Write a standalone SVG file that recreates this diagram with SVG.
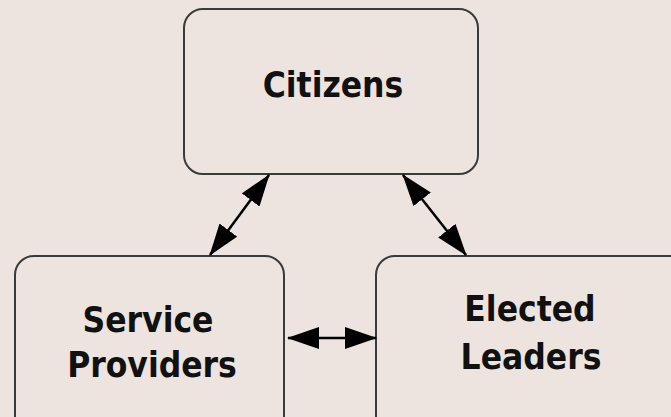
<svg xmlns="http://www.w3.org/2000/svg" width="671" height="417" viewBox="0 0 671 417">
<style>
.box{fill:#ede4e0;stroke:#3a3a3a;stroke-width:2}
.lbl{font-family:"DejaVu Sans Condensed","DejaVu Sans",sans-serif;font-stretch:condensed;font-weight:bold;font-size:35px;fill:#111;text-anchor:middle}
.con{stroke:#000;stroke-width:2.5;fill:none;marker-start:url(#ah);marker-end:url(#ah)}
</style>
<defs>
<marker id="ah" viewBox="0 0 32 22" refX="31" refY="11" markerWidth="32" markerHeight="22" markerUnits="userSpaceOnUse" orient="auto-start-reverse">
<path d="M0,0 L32,11 L0,22 z" fill="#000"/>
</marker>
</defs>
<rect width="671" height="417" fill="#ede4e0"/>
<g id="citizens">
<rect class="box" x="184" y="9" width="294" height="165" rx="19" ry="19"/>
<text class="lbl" x="333" y="97">Citizens</text>
</g>
<g id="service-providers">
<rect class="box" x="15" y="256" width="269" height="180" rx="19" ry="19"/>
<text class="lbl" x="148" y="332">Service</text>
<text class="lbl" x="152" y="377">Providers</text>
</g>
<g id="elected-leaders">
<rect class="box" x="376" y="256" width="320" height="180" rx="19" ry="19"/>
<text class="lbl" x="530" y="321">Elected</text>
<text class="lbl" x="531" y="369">Leaders</text>
</g>
<g id="connectors">
<line class="con" x1="210" y1="255" x2="269" y2="175"/>
<line class="con" x1="403" y1="175" x2="466" y2="255"/>
<line class="con" x1="288" y1="338" x2="376" y2="338"/>
</g>
</svg>
